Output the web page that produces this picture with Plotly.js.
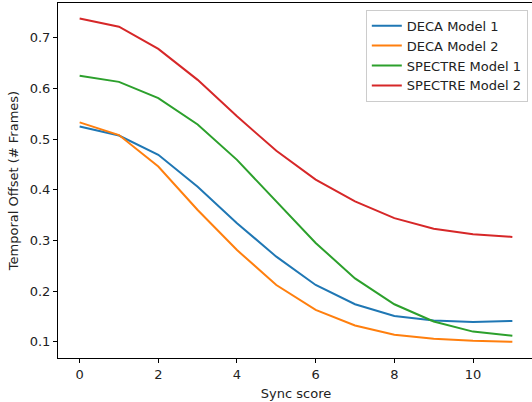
<!DOCTYPE html>
<html>
<head>
<meta charset="utf-8">
<script src="https://cdn.plot.ly/plotly-3.0.1.min.js"></script>
<style>
html, body { margin: 0; padding: 0; overflow: hidden; background: #fff; }
#chart { width: 536px; height: 402px; }
</style>
</head>
<body>
<div id="chart"></div>
<script>
const syncScores = [0, 1, 2, 3, 4, 5, 6, 7, 8, 9, 10, 11];
const decaModel1 = [0.525, 0.507, 0.469, 0.406, 0.334, 0.268, 0.212, 0.174, 0.151, 0.142, 0.139, 0.141];
const decaModel2 = [0.533, 0.508, 0.446, 0.360, 0.281, 0.212, 0.163, 0.132, 0.114, 0.106, 0.102, 0.100];
const spectreModel1 = [0.625, 0.613, 0.581, 0.529, 0.459, 0.376, 0.295, 0.225, 0.174, 0.140, 0.120, 0.112];
const spectreModel2 = [0.738, 0.722, 0.678, 0.617, 0.545, 0.477, 0.420, 0.377, 0.344, 0.323, 0.312, 0.307];
const seriesNames = ["DECA Model 1", "DECA Model 2", "SPECTRE Model 1", "SPECTRE Model 2"];
const seriesColors = ["#1f77b4", "#ff7f0e", "#2ca02c", "#d62728"];
const xTickVals = [0, 2, 4, 6, 8, 10];
const yTickVals = [0.1, 0.2, 0.3, 0.4, 0.5, 0.6, 0.7];

const allSeries = [decaModel1, decaModel2, spectreModel1, spectreModel2];
const traces = allSeries.map((ys, i) => ({
  x: syncScores,
  y: ys,
  type: "scatter",
  mode: "lines",
  name: seriesNames[i],
  line: { color: seriesColors[i], width: 2 }
}));

const font = { family: "DejaVu Sans, sans-serif", size: 13, color: "#000" };

const layout = {
  width: 536,
  height: 402,
  margin: { l: 58, r: 2, t: 3, b: 44 },
  paper_bgcolor: "#fff",
  plot_bgcolor: "#fff",
  font: font,
  showlegend: true,
  legend: {
    x: 0.987, y: 0.981, xanchor: "right", yanchor: "top",
    bgcolor: "rgba(255,255,255,0.8)",
    bordercolor: "#cccccc", borderwidth: 1,
    font: { family: "DejaVu Sans, sans-serif", size: 13, color: "#222" },
    tracegroupgap: 0
  },
  xaxis: {
    range: [-0.55, 11.55],
    tickvals: xTickVals,
    ticks: "outside", ticklen: 4, tickwidth: 1, tickcolor: "#000",
    showline: true, linecolor: "#000", linewidth: 1, mirror: true,
    showgrid: false, zeroline: false,
    tickfont: { family: "DejaVu Sans, sans-serif", size: 13, color: "#222" },
    title: { text: "Sync score", standoff: 8, font: { family: "DejaVu Sans, sans-serif", size: 13, color: "#222" } },
    automargin: false
  },
  yaxis: {
    range: [0.0679, 0.7687],
    tickvals: yTickVals,
    tickformat: ".1f",
    ticks: "outside", ticklen: 4, tickwidth: 1, tickcolor: "#000",
    showline: true, linecolor: "#000", linewidth: 1, mirror: true,
    showgrid: false, zeroline: false,
    tickfont: { family: "DejaVu Sans, sans-serif", size: 13, color: "#222" },
    title: { text: "Temporal Offset (# Frames)", standoff: 8, font: { family: "DejaVu Sans, sans-serif", size: 13, color: "#222" } },
    automargin: false
  }
};

Plotly.newPlot("chart", traces, layout, { displayModeBar: false, staticPlot: true });
</script>
</body>
</html>
